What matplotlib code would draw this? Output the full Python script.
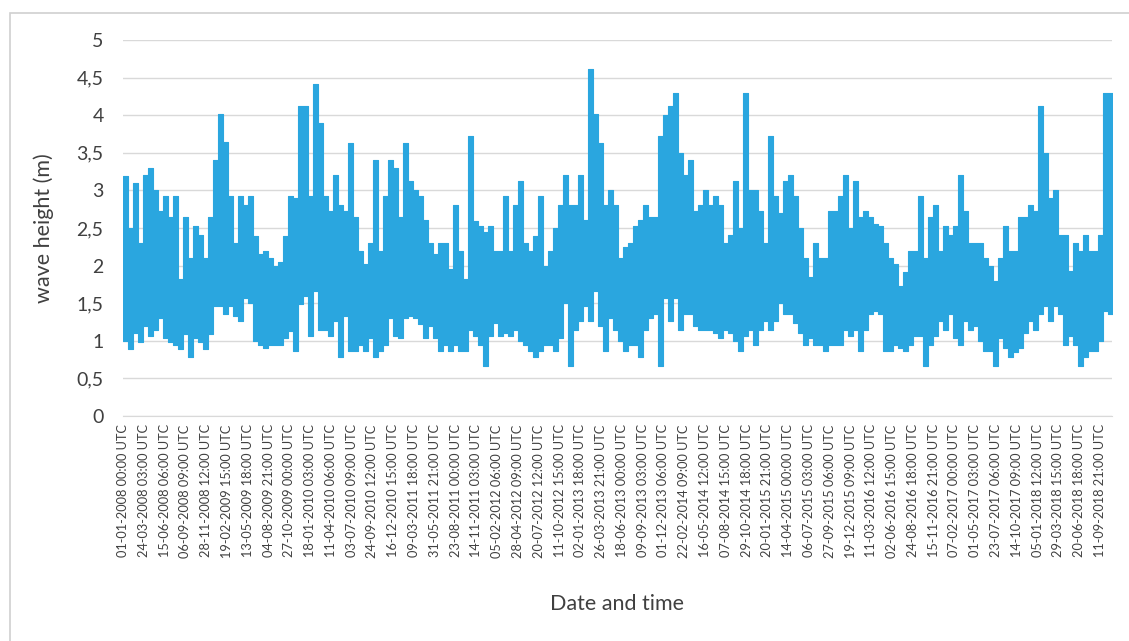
import matplotlib
matplotlib.use("Agg")
import matplotlib.pyplot as plt
import numpy as np
from matplotlib.patches import Rectangle

# 20-day (160 x 3-hourly steps) maximum and minimum significant wave height (m)
window_steps = 160
wave_max = [
    3.19, 2.5, 3.10, 2.3, 3.2, 3.3, 3.01, 2.72, 2.92, 2.64, 2.92, 1.82, 2.64, 2.10, 2.53, 2.41, 2.10, 2.64, 3.41, 4.01, 3.65, 2.92, 2.3, 2.92, 2.81, 2.92, 2.4, 2.15,
    2.19, 2.10, 2.0, 2.05, 2.4, 2.92, 2.9, 4.12, 4.12, 2.92, 4.41, 3.9, 2.92, 2.72, 3.21, 2.81, 2.72, 3.63, 2.64, 2.19, 2.02, 2.30, 3.41, 2.2, 2.92, 3.41, 3.30, 2.64, 3.63,
    3.12, 3.01, 2.92, 2.6, 2.30, 2.15, 2.30, 2.30, 1.95, 2.81, 2.19, 1.82, 3.72, 2.59, 2.53, 2.45, 2.53, 2.19, 2.19, 2.92, 2.19, 2.81, 3.12, 2.30, 2.19, 2.39, 2.92, 2.0,
    2.19, 2.5, 2.81, 3.21, 2.81, 2.81, 3.21, 2.6, 4.62, 4.01, 3.63, 2.81, 3.01, 2.81, 2.10, 2.25, 2.30, 2.53, 2.6, 2.81, 2.64, 2.64, 3.72, 4.0, 4.12, 4.30, 3.5, 3.2,
    3.41, 2.72, 2.81, 3.01, 2.8, 2.92, 2.81, 2.30, 2.41, 3.12, 2.5, 4.30, 3.0, 3.01, 2.72, 2.30, 3.72, 2.92, 2.7, 3.12, 3.21, 2.92, 2.5, 2.10, 1.85, 2.30, 2.10, 2.1, 2.72,
    2.72, 2.92, 3.21, 2.5, 3.12, 2.64, 2.72, 2.64, 2.55, 2.53, 2.3, 2.10, 2.02, 1.73, 1.91, 2.19, 2.19, 2.92, 2.1, 2.64, 2.81, 2.19, 2.53, 2.41, 2.53, 3.21, 2.72, 2.30,
    2.30, 2.30, 2.1, 2.0, 1.8, 2.10, 2.53, 2.19, 2.19, 2.64, 2.64, 2.81, 2.72, 4.12, 3.5, 2.9, 3.01, 2.41, 2.41, 1.93, 2.30, 2.19, 2.41, 2.19, 2.19, 2.41, 4.30, 4.30,
]
wave_min = [
    1.0, 0.89, 1.1, 0.98, 1.2, 1.07, 1.15, 1.3, 1.04, 0.98, 0.95, 0.89, 1.09, 0.78, 1.04, 0.98, 0.89, 1.09, 1.46, 1.46, 1.35, 1.46, 1.33, 1.26, 1.57, 1.5, 1.0, 0.95,
    0.91, 0.95, 0.95, 0.95, 1.04, 1.13, 0.87, 1.49, 1.6, 1.07, 1.66, 1.15, 1.15, 1.07, 1.26, 0.78, 1.33, 0.87, 0.87, 0.95, 0.87, 1.04, 0.78, 0.87, 0.95, 1.3, 1.07, 1.04, 1.3,
    1.33, 1.3, 1.22, 1.04, 1.2, 1.04, 0.87, 0.95, 0.87, 0.95, 0.87, 0.87, 1.15, 1.07, 0.95, 0.67, 1.07, 1.24, 1.07, 1.1, 1.07, 1.15, 1.0, 0.95, 0.87, 0.78, 0.87, 0.95,
    0.95, 0.87, 1.04, 1.5, 0.67, 1.15, 1.26, 1.46, 1.26, 1.66, 1.2, 0.87, 1.3, 1.15, 1.0, 0.87, 0.95, 0.95, 0.78, 1.15, 1.3, 1.35, 0.67, 1.57, 1.26, 1.57, 1.15, 1.35,
    1.35, 1.2, 1.15, 1.15, 1.15, 1.1, 1.04, 1.15, 1.1, 1.0, 0.87, 1.07, 1.15, 0.95, 1.15, 1.26, 1.15, 1.26, 1.5, 1.35, 1.35, 1.24, 1.1, 0.95, 1.04, 0.95, 0.95, 0.87, 0.95,
    0.95, 0.95, 1.15, 1.07, 1.15, 0.87, 1.15, 1.35, 1.4, 1.35, 0.87, 0.87, 0.95, 0.9, 0.87, 0.95, 1.07, 1.07, 0.67, 0.95, 1.07, 1.26, 1.15, 1.35, 1.04, 0.95, 1.26, 1.15,
    1.2, 1.0, 0.87, 0.87, 0.67, 1.04, 0.9, 0.78, 0.85, 0.9, 1.1, 1.26, 1.15, 1.35, 1.46, 1.26, 1.46, 1.35, 0.95, 1.07, 0.95, 0.67, 0.78, 0.87, 0.87, 1.0, 1.4, 1.35,
]

# category-axis labels, one every 665 three-hourly records
label_step = 665
n_records = 31640
tick_labels = [
    "01-01-2008 00:00 UTC", "24-03-2008 03:00 UTC", "15-06-2008 06:00 UTC", "06-09-2008 09:00 UTC",
    "28-11-2008 12:00 UTC", "19-02-2009 15:00 UTC", "13-05-2009 18:00 UTC", "04-08-2009 21:00 UTC",
    "27-10-2009 00:00 UTC", "18-01-2010 03:00 UTC", "11-04-2010 06:00 UTC", "03-07-2010 09:00 UTC",
    "24-09-2010 12:00 UTC", "16-12-2010 15:00 UTC", "09-03-2011 18:00 UTC", "31-05-2011 21:00 UTC",
    "23-08-2011 00:00 UTC", "14-11-2011 03:00 UTC", "05-02-2012 06:00 UTC", "28-04-2012 09:00 UTC",
    "20-07-2012 12:00 UTC", "11-10-2012 15:00 UTC", "02-01-2013 18:00 UTC", "26-03-2013 21:00 UTC",
    "18-06-2013 00:00 UTC", "09-09-2013 03:00 UTC", "01-12-2013 06:00 UTC", "22-02-2014 09:00 UTC",
    "16-05-2014 12:00 UTC", "07-08-2014 15:00 UTC", "29-10-2014 18:00 UTC", "20-01-2015 21:00 UTC",
    "14-04-2015 00:00 UTC", "06-07-2015 03:00 UTC", "27-09-2015 06:00 UTC", "19-12-2015 09:00 UTC",
    "11-03-2016 12:00 UTC", "02-06-2016 15:00 UTC", "24-08-2016 18:00 UTC", "15-11-2016 21:00 UTC",
    "07-02-2017 00:00 UTC", "01-05-2017 03:00 UTC", "23-07-2017 06:00 UTC", "14-10-2017 09:00 UTC",
    "05-01-2018 12:00 UTC", "29-03-2018 15:00 UTC", "20-06-2018 18:00 UTC", "11-09-2018 21:00 UTC",
]
y_ticks = [0, 0.5, 1, 1.5, 2, 2.5, 3, 3.5, 4, 4.5, 5]

plt.rcParams["font.family"] = ["Lato", "DejaVu Sans"]
text_color = "#404040"
blue = "#2AA6DF"

W, H = 1129, 641
fig = plt.figure(figsize=(W / 100, H / 100), dpi=100)
fig.patch.set_facecolor("white")
ax = fig.add_axes([123 / W, 1 - 416 / H, (1112 - 123) / W, (416 - 40) / H])

# chart-area border
fig.patches.append(Rectangle((10 / W, -0.1), 1.2, 1.1 - 13 / H, transform=fig.transFigure,
                             fill=False, edgecolor="#D0D0D0", linewidth=1.2))

edges = np.arange(len(wave_max) + 1) * window_steps
ax.fill_between(edges, np.append(wave_min, wave_min[-1]), np.append(wave_max, wave_max[-1]),
                step="post", color=blue, edgecolor=blue, linewidth=0.8)

ax.set_xlim(0, n_records)
ax.set_ylim(0, 5)
ax.set_yticks(y_ticks)
ax.set_yticklabels([f"{v:g}".replace(".", ",") for v in y_ticks], fontsize=14, color=text_color)
ax.set_xticks(np.arange(len(tick_labels)) * label_step)
ax.set_xticklabels(tick_labels, rotation=90, fontsize=9.2, color=text_color, va="top", ha="center")
ax.tick_params(axis="y", length=0, pad=14)
ax.tick_params(axis="x", length=0, pad=6)
ax.grid(axis="y", color="#D9D9D9", linewidth=1)
ax.set_axisbelow(True)
for s in ["top", "right", "left"]:
    ax.spines[s].set_visible(False)
ax.spines["bottom"].set_color("#D9D9D9")

ax.set_ylabel("wave height (m)", fontsize=15.5, color=text_color)
ax.yaxis.set_label_coords((54 - 123) / (1112 - 123), 0.5)
ax.set_xlabel("Date and time", fontsize=15.5, color=text_color)
ax.xaxis.set_label_coords(0.5, -(594 - 416) / (416 - 40))

fig.savefig("out.png", dpi=100)
